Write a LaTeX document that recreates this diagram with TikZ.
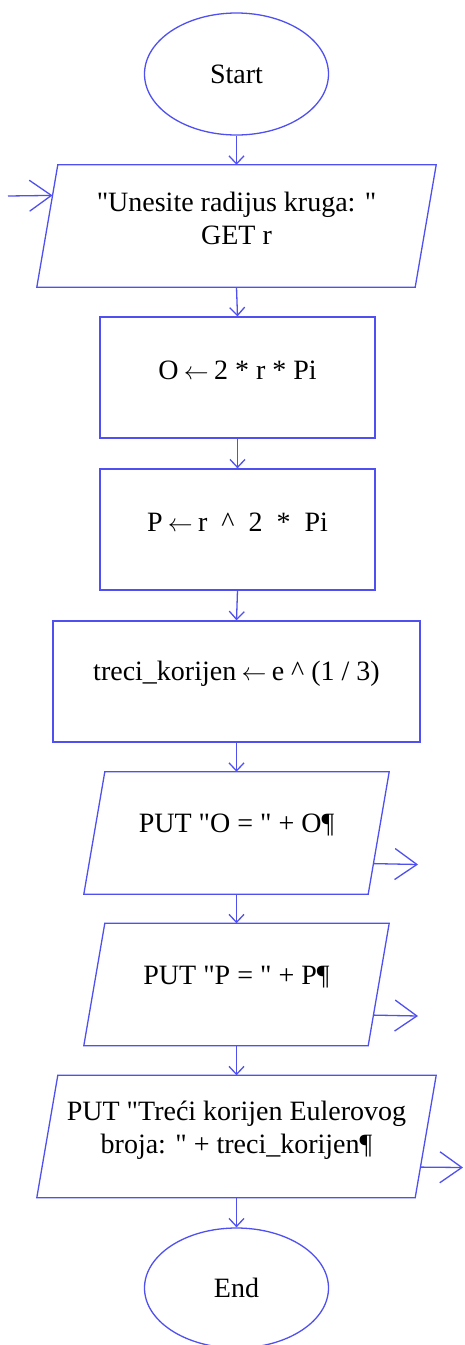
\documentclass[tikz,border=0pt]{standalone}
\usepackage{fontspec}
\setmainfont{Liberation Serif}[Ligatures=TeXOff]
\usetikzlibrary{shapes.geometric,arrows.meta,calc}
\definecolor{fc}{RGB}{80,80,240}
\newcommand{\lar}{\hspace{-0.06em}\ensuremath{\leftarrow}\hspace{-0.06em}}
\tikzset{
  x=1pt,y=-1pt,
  line/.style={draw=fc,line width=1.3pt},
  flow/.style={line,-{Straight Barb[length=8pt,width=15pt,line width=1.3pt]}},
  io/.style={line,-{Straight Barb[length=22pt,width=31pt,line width=1.3pt]}},
  term/.style={ellipse,line,minimum width=184pt,minimum height=122pt,inner sep=0pt},
  proc/.style={rectangle,line,minimum height=121pt,inner sep=0pt},
  pbox/.style={rectangle,minimum height=122pt,inner sep=0pt},
  txt/.style={font=\fontsize{28pt}{33pt}\selectfont,align=center,inner sep=0pt}
}
\begin{document}
\begin{tikzpicture}
\useasboundingbox (0,0) rectangle (464,1345);
% terminals
\node[term] (start) at (236.5,74) {};
\node[txt] (tstart) at (236.5,74) {Start};
\node[term,minimum height=120pt] (end) at (236.5,1288) {};
\node[txt] (tend) at (236.5,1288) {End};
% input parallelogram
\node[pbox,minimum width=378pt] (in1) at (236.5,226) {};
\draw[line] ([xshift=10.5pt]in1.north west) -- ([xshift=10.5pt]in1.north east)
  -- ([xshift=-10.5pt]in1.south east) -- ([xshift=-10.5pt]in1.south west) -- cycle;
\node[txt] (tin1) at (236.5,218.5) {"Unesite radijus kruga: "\\GET r};
% process boxes
\node[proc,minimum width=275pt] (p1) at (237.5,377.5) {};
\node[txt] (tp1) at (237.5,370) {O \lar{} 2 * r * Pi};
\node[proc,minimum width=275pt] (p2) at (237.5,529.5) {};
\node[txt] (tp2) at (237.5,522) {P \lar{} r \ \textasciicircum\ \ 2 \ * \ Pi};
\node[proc,minimum width=367pt] (p3) at (236.5,681.5) {};
\node[txt] (tp3) at (236.5,674) {treci\_korijen \lar{} e \textasciicircum\ (1 / 3)};
% output parallelograms
\node[pbox,minimum width=284pt] (o1) at (236.5,833) {};
\draw[line] ([xshift=10.5pt]o1.north west) -- ([xshift=10.5pt]o1.north east)
  -- ([xshift=-10.5pt]o1.south east) -- ([xshift=-10.5pt]o1.south west) -- cycle;
\node[txt] (to1) at (236.5,825) {PUT "O = " + O¶};
\node[pbox,minimum width=284pt] (o2) at (236.5,984.5) {};
\draw[line] ([xshift=10.5pt]o2.north west) -- ([xshift=10.5pt]o2.north east)
  -- ([xshift=-10.5pt]o2.south east) -- ([xshift=-10.5pt]o2.south west) -- cycle;
\node[txt] (to2) at (236.5,977) {PUT "P = " + P¶};
\node[pbox,minimum width=378pt] (o3) at (236.5,1136.5) {};
\draw[line] ([xshift=10.5pt]o3.north west) -- ([xshift=10.5pt]o3.north east)
  -- ([xshift=-10.5pt]o3.south east) -- ([xshift=-10.5pt]o3.south west) -- cycle;
\node[txt] (to3) at (236.5,1130) {PUT "Treći korijen Eulerovog\\broja: " + treci\_korijen¶};
% flow connectors
\draw[flow] (start) -- (in1.north);
\draw[flow] (in1.south) -- (p1.north);
\draw[flow] (p1.south) -- (p2.north);
\draw[flow] (p2.south) -- (p3.north);
\draw[flow] (p3.south) -- (o1.north);
\draw[flow] (o1.south) -- (o2.north);
\draw[flow] (o2.south) -- (o3.north);
\draw[flow] (o3.south) -- (end.north);
% input / output arrows
\coordinate (inL) at ($([xshift=10.5pt]in1.north west)!0.25!([xshift=-10.5pt]in1.south west)$);
\coordinate (inS) at (8,196);
\draw[io] (inS) -- (inL);
\coordinate (o1R) at ($([xshift=10.5pt]o1.north east)!0.75!([xshift=-10.5pt]o1.south east)$);
\coordinate (o1E) at (418,864.5);
\draw[io] (o1R) -- (o1E);
\coordinate (o2R) at ($([xshift=10.5pt]o2.north east)!0.75!([xshift=-10.5pt]o2.south east)$);
\coordinate (o2E) at (418,1016);
\draw[io] (o2R) -- (o2E);
\coordinate (o3R) at ($([xshift=10.5pt]o3.north east)!0.75!([xshift=-10.5pt]o3.south east)$);
\coordinate (o3E) at (463,1167.5);
\draw[io] (o3R) -- (o3E);
\end{tikzpicture}
\end{document}
